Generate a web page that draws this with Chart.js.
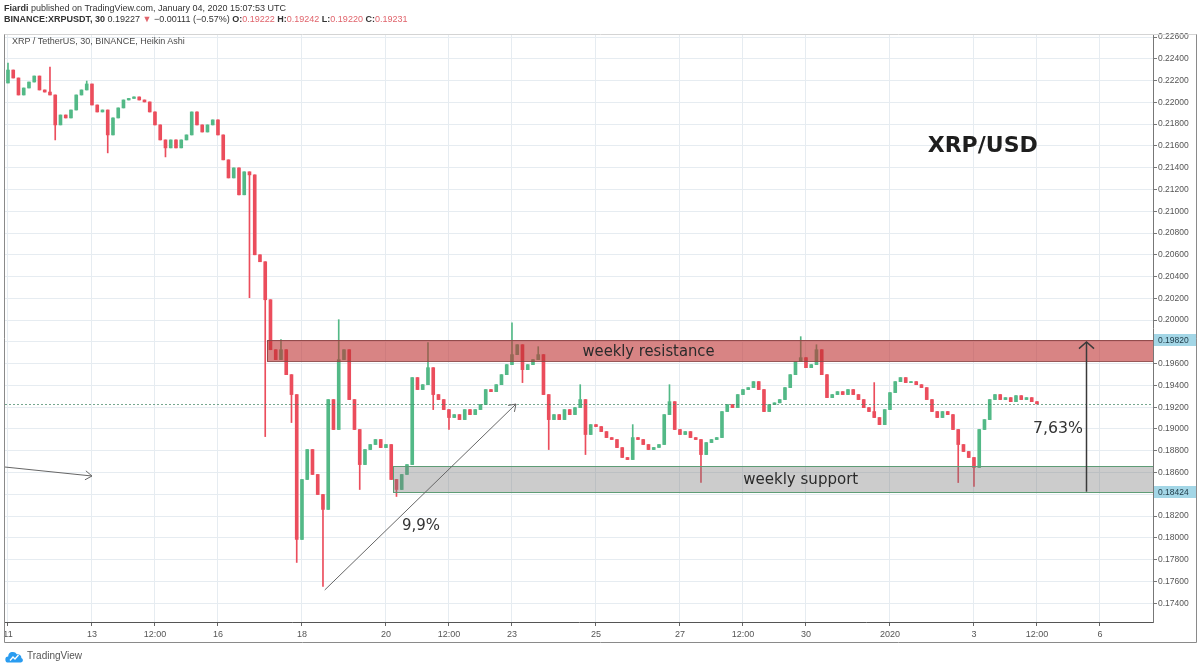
<!DOCTYPE html>
<html>
<head>
<meta charset="utf-8">
<title>XRP/USD</title>
<script src="https://cdn.jsdelivr.net/npm/chart.js@4.4.0/dist/chart.umd.min.js"></script>
<style>
  html, body { margin: 0; padding: 0; background: #fff; }
  body { width: 1200px; height: 670px; position: relative; overflow: hidden;
         font-family: 'Liberation Sans', Arial, sans-serif; color: #333; }
  #chart { position: absolute; left: 0; top: 0; }
  .hdr { position: absolute; left: 4px; font-size: 9px; line-height: 11px; white-space: nowrap; color: #333; }
  .red { color: #e0646c; }
  #legend { position: absolute; left: 12px; top: 36px; font-size: 9px; line-height: 11px; color: #4a4a4a; }
  #footer { position: absolute; left: 5px; top: 649px; font-size: 10px; line-height: 14px; color: #555;
            display: flex; align-items: center; gap: 3px; }
</style>
</head>
<body>
<canvas id="chart" width="1200" height="670"></canvas>
<div class="hdr" style="top:3px"><b>Fiardi</b> published on TradingView.com, January 04, 2020 15:07:53 UTC</div>
<div class="hdr" style="top:14px"><b>BINANCE:XRPUSDT, 30</b> 0.19227 <span class="red">▼</span> −0.00111 (−0.57%) <b>O:</b><span class="red">0.19222</span> <b>H:</b><span class="red">0.19242</span> <b>L:</b><span class="red">0.19220</span> <b>C:</b><span class="red">0.19231</span></div>
<div id="legend">XRP / TetherUS, 30, BINANCE, Heikin Ashi</div>
<div id="footer">
  <svg width="19" height="13" viewBox="0 0 19 13">
    <path d="M3.5 12.5a3 3 0 0 1-.3-6 4.6 4.6 0 0 1 8.6-2.2 3.6 3.6 0 0 1 4.6 3.6 2.4 2.4 0 0 1-.4 4.6z" fill="#2a9cf0"/>
    <path d="M5 10.5l3-3.5 2 2 3.5-4" stroke="#fff" stroke-width="1.3" fill="none"/>
  </svg>TradingView
</div>

<script>
// Heikin Ashi closes, one value per 3 hours from Dec 11 00:00
const candleHours = 3;
const firstOpen = 0.22178;
const closes = [
  0.22297, 0.22224, 0.22068, 0.22132, 0.22187, 0.22242, 0.22114, 0.22095, 0.22068, 0.21793,
  0.21884, 0.21857, 0.21930, 0.22068, 0.22114, 0.22169, 0.21976, 0.21912, 0.21930, 0.21701,
  0.21857, 0.21949, 0.22022, 0.22036, 0.22050, 0.22022, 0.22004, 0.21912, 0.21793, 0.21655,
  0.21582, 0.21655, 0.21582, 0.21655, 0.21701, 0.21912, 0.21793, 0.21728, 0.21793, 0.21839,
  0.21701, 0.21472, 0.21306, 0.21398, 0.21151, 0.21362, 0.21334, 0.20600, 0.20536, 0.20187,
  0.19728, 0.19637, 0.19728, 0.19499, 0.19316, 0.17985, 0.18536, 0.18811, 0.18582, 0.18398,
  0.18261, 0.19270, 0.18995, 0.19637, 0.19728, 0.19270, 0.18995, 0.18673, 0.18811, 0.18857,
  0.18903, 0.18829, 0.18857, 0.18536, 0.18444, 0.18582, 0.18673, 0.19472, 0.19362, 0.19407,
  0.19563, 0.19316, 0.19270, 0.19178, 0.19105, 0.19132, 0.19086, 0.19178, 0.19132, 0.19178,
  0.19224, 0.19362, 0.19343, 0.19407, 0.19499, 0.19591, 0.19683, 0.19774, 0.19545, 0.19591,
  0.19637, 0.19683, 0.19316, 0.19086, 0.19132, 0.19086, 0.19178, 0.19132, 0.19196, 0.19270,
  0.18949, 0.19040, 0.19022, 0.18976, 0.18921, 0.18903, 0.18829, 0.18738, 0.18719, 0.18921,
  0.18903, 0.18857, 0.18811, 0.18830, 0.18857, 0.19132, 0.19251, 0.18995, 0.18949, 0.18976,
  0.18921, 0.18903, 0.18765, 0.18875, 0.18903, 0.18921, 0.19160, 0.19224, 0.19196, 0.19316,
  0.19362, 0.19380, 0.19435, 0.19362, 0.19160, 0.19224, 0.19240, 0.19270, 0.19380, 0.19499,
  0.19618, 0.19655, 0.19563, 0.19591, 0.19728, 0.19499, 0.19288, 0.19316, 0.19343, 0.19316,
  0.19362, 0.19316, 0.19270, 0.19196, 0.19160, 0.19105, 0.19040, 0.19178, 0.19334, 0.19435,
  0.19472, 0.19426, 0.19435, 0.19407, 0.19380, 0.19270, 0.19160, 0.19105, 0.19160, 0.19132,
  0.18995, 0.18857, 0.18793, 0.18738, 0.18646, 0.18995, 0.19086, 0.19270, 0.19316, 0.19270,
  0.19288, 0.19251, 0.19306, 0.19270, 0.19288, 0.19251, 0.19231
];

// wick tips that stick out past the bodies (candle index, price)
const wickIndex = [0, 8, 9, 15, 19, 30, 46, 49, 52, 54, 55, 60, 63, 67, 74, 80, 81, 84, 96, 98,
                   101, 103, 109, 110, 119, 126, 132, 151, 154, 165, 181, 184];
const wickPrice = [0.22361, 0.22325, 0.21655, 0.22196, 0.21536, 0.21499, 0.20206, 0.18930, 0.19820, 0.19059,
                   0.17774, 0.17554, 0.20004, 0.18444, 0.18380, 0.19793, 0.19178, 0.18995, 0.19976, 0.19426,
                   0.19756, 0.18811, 0.19407, 0.18765, 0.19040, 0.19407, 0.18508, 0.19848, 0.19774, 0.19426,
                   0.18508, 0.18472];

const yTicks = [0.174, 0.176, 0.178, 0.180, 0.182, 0.184, 0.186, 0.188, 0.190, 0.192, 0.194, 0.196, 0.198,
                0.200, 0.202, 0.204, 0.206, 0.208, 0.210, 0.212, 0.214, 0.216, 0.218, 0.220, 0.222, 0.224, 0.226];
const xTickHours = [0, 48, 84, 120, 168, 216, 252, 288, 336, 384, 420, 456, 504, 552, 588, 624];
const xTickLabels = ['11', '13', '12:00', '16', '18', '20', '12:00', '23', '25', '27', '12:00', '30', '2020', '3', '12:00', '6'];

const lastPrice = 0.19231;
const markedPrices = [0.19820, 0.18424];

// drawn zones (hours from Dec 11, prices)
const zoneNames = ['weekly resistance', 'weekly support'];
const zoneFrom = [148, 220];
const zoneTop = [0.19820, 0.18660];
const zoneBottom = [0.19624, 0.18424];
const zoneLabelHour = [366, 453];

// arrows
const arrowFromHour = [181, -2, 616.3];
const arrowFromPrice = [0.17521, 0.18651, 0.18424];
const arrowToHour = [290.3, 48, 616.3];
const arrowToPrice = [0.19229, 0.18568, 0.19799];

// free text
const noteText = ['XRP/USD', '9,9%', '7,63%'];
const noteHour = [557, 236, 600];
const notePrice = [0.21599, 0.18109, 0.19000];

const upColor = '#53b987';
const downColor = '#eb4d5c';

const opens = closes.map((c, i) => i === 0 ? firstOpen : closes[i - 1]);
const highs = closes.map((c, i) => Math.max(c, opens[i]));
const lows = closes.map((c, i) => Math.min(c, opens[i]));
wickIndex.forEach((idx, k) => {
    const p = wickPrice[k];
    if (p > highs[idx]) highs[idx] = p;
    else if (p < lows[idx]) lows[idx] = p;
});
const colors = closes.map((c, i) => c >= opens[i] ? upColor : downColor);
const bodies = closes.map((c, i) => ({ x: i * candleHours, y: [opens[i], c] }));
const wicks = closes.map((c, i) => ({ x: i * candleHours, y: [lows[i], highs[i]] }));

function arrow(ctx, x0, y0, x1, y1, head, spread) {
    ctx.beginPath();
    ctx.moveTo(x0, y0);
    ctx.lineTo(x1, y1);
    ctx.stroke();
    const ang = Math.atan2(y1 - y0, x1 - x0);
    ctx.beginPath();
    ctx.moveTo(x1 - head * Math.cos(ang - spread), y1 - head * Math.sin(ang - spread));
    ctx.lineTo(x1, y1);
    ctx.lineTo(x1 - head * Math.cos(ang + spread), y1 - head * Math.sin(ang + spread));
    ctx.stroke();
}

const drawings = {
    id: 'drawings',
    afterDatasetsDraw(chart) {
        const { ctx, chartArea: a, scales: { x, y } } = chart;
        ctx.save();
        ctx.beginPath();
        ctx.rect(a.left, a.top, a.right - a.left, a.bottom - a.top);
        ctx.clip();

        // last price line
        const yl = Math.round(y.getPixelForValue(lastPrice)) + 0.5;
        ctx.strokeStyle = 'rgba(60,130,95,0.7)';
        ctx.lineWidth = 1;
        ctx.setLineDash([2, 2]);
        ctx.beginPath();
        ctx.moveTo(a.left, yl);
        ctx.lineTo(a.right, yl);
        ctx.stroke();
        ctx.setLineDash([]);

        // zones
        const fills = ['rgba(190,50,50,0.6)', 'rgba(120,120,120,0.38)'];
        const edges = ['rgba(140,70,70,0.9)', '#5e9c76'];
        const maxW = [132, 115];
        zoneNames.forEach((name, k) => {
            const x0 = Math.round(x.getPixelForValue(zoneFrom[k]));
            const y0 = Math.round(y.getPixelForValue(zoneTop[k]));
            const y1 = Math.round(y.getPixelForValue(zoneBottom[k]));
            ctx.fillStyle = fills[k];
            ctx.fillRect(x0, y0, a.right - x0, y1 - y0);
            ctx.strokeStyle = edges[k];
            ctx.strokeRect(x0 + 0.5, y0 + 0.5, a.right - x0, y1 - y0);
            ctx.fillStyle = '#2b2b2b';
            ctx.font = '16px "DejaVu Sans"';
            ctx.textAlign = 'center';
            ctx.textBaseline = 'middle';
            ctx.fillText(name, x.getPixelForValue(zoneLabelHour[k]), (y0 + y1) / 2 + 1, maxW[k]);
        });

        // arrows
        arrowFromHour.forEach((h, k) => {
            const vertical = arrowFromHour[k] === arrowToHour[k];
            ctx.lineWidth = vertical ? 1.5 : 1;
            ctx.strokeStyle = vertical ? '#3a3a3a' : '#666';
            arrow(ctx,
                x.getPixelForValue(h), y.getPixelForValue(arrowFromPrice[k]),
                x.getPixelForValue(arrowToHour[k]), y.getPixelForValue(arrowToPrice[k]),
                vertical ? 10 : 8, vertical ? 0.85 : 0.6);
        });

        // notes
        const noteFont = ['bold 22px "DejaVu Sans"', '16px "DejaVu Sans"', '16px "DejaVu Sans"'];
        const noteW = [112, 38, 50];
        ctx.textAlign = 'center';
        ctx.textBaseline = 'middle';
        noteText.forEach((t, k) => {
            ctx.font = noteFont[k];
            ctx.fillStyle = k === 0 ? '#1e1e1e' : '#333';
            ctx.fillText(t, x.getPixelForValue(noteHour[k]), y.getPixelForValue(notePrice[k]), noteW[k]);
        });
        ctx.restore();
    },
    afterDraw(chart) {
        const { ctx, chartArea: a, scales: { y } } = chart;
        ctx.save();
        // marked prices on the axis
        markedPrices.forEach(p => {
            const py = Math.round(y.getPixelForValue(p));
            ctx.fillStyle = '#a3d6e6';
            ctx.fillRect(a.right + 1, py - 6, 43, 12);
            ctx.fillStyle = '#1d3946';
            ctx.font = '8.5px "Liberation Sans"';
            ctx.textAlign = 'left';
            ctx.textBaseline = 'middle';
            ctx.fillText(p.toFixed(5), a.right + 5, py + 0.5);
        });
        // frame
        ctx.strokeStyle = '#8a8a8a';
        ctx.lineWidth = 1;
        ctx.beginPath();
        ctx.moveTo(4.5, a.top);
        ctx.lineTo(4.5, 642.5);
        ctx.lineTo(1196.5, 642.5);
        ctx.lineTo(1196.5, a.top);
        ctx.stroke();
        ctx.strokeStyle = '#d4d4d4';
        ctx.beginPath();
        ctx.moveTo(4.5, a.top + 0.5);
        ctx.lineTo(1196.5, a.top + 0.5);
        ctx.stroke();
        ctx.restore();
    }
};

const ctx = document.getElementById('chart').getContext('2d');
new Chart(ctx, {
    type: 'bar',
    data: {
        datasets: [
            {
                label: 'wick',
                data: wicks,
                backgroundColor: colors,
                barThickness: 1,
                grouped: false,
                order: 2
            },
            {
                label: 'body',
                data: bodies,
                backgroundColor: colors,
                barThickness: 3,
                minBarLength: 1,
                grouped: false,
                order: 1
            }
        ]
    },
    options: {
        responsive: false,
        animation: false,
        events: [],
        layout: { padding: { left: 5, top: 34, right: 3, bottom: 28 } },
        plugins: { legend: { display: false }, tooltip: { enabled: false } },
        scales: {
            x: {
                type: 'linear',
                min: -1.7,
                max: 654.3,
                offset: false,
                grid: { offset: false, color: '#e6ecf1', tickColor: '#666', tickLength: 4 },
                border: { display: true, color: '#555' },
                ticks: {
                    color: '#555',
                    font: { family: 'Liberation Sans', size: 9 },
                    maxRotation: 0,
                    autoSkip: false,
                    padding: 3,
                    callback: (v, i) => xTickLabels[i]
                },
                afterBuildTicks: s => { s.ticks = xTickHours.map(v => ({ value: v })); },
                afterFit: s => { s.height = 20; s.paddingLeft = 0; s.paddingRight = 0; }
            },
            y: {
                position: 'right',
                min: 0.17227,
                max: 0.22628,
                grid: { color: '#e6ecf1', tickColor: '#777', tickLength: 4 },
                border: { display: true, color: '#777' },
                ticks: {
                    color: '#555',
                    font: { family: 'Liberation Sans', size: 8.5 },
                    padding: 1,
                    callback: v => v.toFixed(5)
                },
                afterBuildTicks: s => { s.ticks = yTicks.map(v => ({ value: v })); },
                afterFit: s => { s.width = 44; s.paddingTop = 0; s.paddingBottom = 0; }
            }
        }
    },
    plugins: [drawings]
});
</script>
</body>
</html>
